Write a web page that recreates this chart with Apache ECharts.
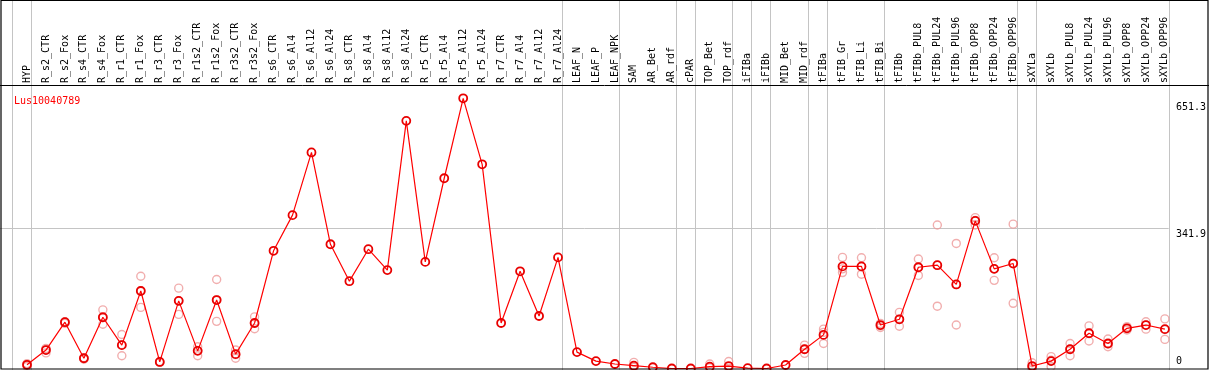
<!DOCTYPE html>
<html>
<head>
<meta charset="utf-8">
<script src="https://cdn.jsdelivr.net/npm/echarts@6/dist/echarts.min.js"></script>
<style>
    html, body {margin: 0; padding: 0; background: #fff;}
    #chart {width: 1209px; height: 370px;}
</style>
</head>
<body>
<div id="chart"></div>
<script>
//samples, left to right
var categories = ["HYP", "R_s2_CTR", "R_s2_Fox", "R_s4_CTR", "R_s4_Fox", "R_r1_CTR", "R_r1_Fox", "R_r3_CTR", "R_r3_Fox",
    "R_r1s2_CTR", "R_r1s2_Fox", "R_r3s2_CTR", "R_r3s2_Fox", "R_s6_CTR", "R_s6_Al4", "R_s6_Al12", "R_s6_Al24",
    "R_s8_CTR", "R_s8_Al4", "R_s8_Al12", "R_s8_Al24", "R_r5_CTR", "R_r5_Al4", "R_r5_Al12", "R_r5_Al24",
    "R_r7_CTR", "R_r7_Al4", "R_r7_Al12", "R_r7_Al24", "LEAF_N", "LEAF_P", "LEAF_NPK", "SAM", "AR_Bet", "AR_rdf",
    "cPAR", "TOP_Bet", "TOP_rdf", "iFIBa", "iFIBb", "MID_Bet", "MID_rdf", "tFIBa", "tFIB_Gr", "tFIB_Li", "tFIB_Bi",
    "tFIBb", "tFIBb_PUL8", "tFIBb_PUL24", "tFIBb_PUL96", "tFIBb_OPP8", "tFIBb_OPP24", "tFIBb_OPP96",
    "sXYLa", "sXYLb", "sXYLb_PUL8", "sXYLb_PUL24", "sXYLb_PUL96", "sXYLb_OPP8", "sXYLb_OPP24", "sXYLb_OPP96"];
//mean expression
var means = [9, 45, 113, 25, 125, 57, 189, 16, 165, 43, 167, 35, 111, 287, 374, 527, 303,
    213, 291, 240, 604, 260, 464, 659, 498, 111, 237, 128, 271, 40, 18, 11, 7, 3, 0,
    0, 4.5, 6, 1, 0, 8.5, 47, 82, 249, 249, 106,
    120, 247, 252, 205, 360, 243, 256,
    6, 18, 47, 86, 61, 98, 106, 96];
//replicates (empty = not shown)
var reps = [[5, 12, 9], [49, 38, 47], [114, 110, 113], [26, 23, 25], [143, 108, 124], [83, 31, 58],
    [225, 149, 190], [17, 15, 16], [196, 132, 165], [53, 31, 44], [217, 115, 168], [45, 25, 34], [126, 97, 110],
    [], [], [], [], [], [], [], [], [], [], [], [], [], [], [], [], [], [], [],
    [15, 3, 4], [], [], [], [11, 2], [17, 1], [], [], [],
    [57, 37, 47], [96, 61, 88], [271, 234, 243], [270, 230, 248], [100, 104, 110],
    [137, 103, 120], [267, 227, 246], [350, 152, 252], [305, 106, 205], [368, 350, 361], [270, 215, 243], [352, 159, 257],
    [14, 0, 4], [29, 5, 20], [61, 31, 47], [104, 67, 86], [72, 53, 60], [102, 94, 98], [114, 96, 106], [121, 71, 95]];
var yTicks = [0, 341.9, 651.3];
var refLines = [341.9];
//last sample index of each tissue group
var groupEnds = [-1, 0, 28, 31, 34, 35, 37, 38, 39, 41, 42, 45, 52, 53, 60];
var geneName = "Lus10040789";

var mono = "DejaVu Sans Mono";
var gridColor = "#c4c4c4";

var repData = [];
reps.forEach(function (arr, i) {
    arr.forEach(function (v) {
        repData.push([i, v]);
    });
});

var chart = echarts.init(document.getElementById("chart"));
chart.setOption({
    animation: false,
    title: {
        text: geneName, left: 9, top: 91,
        textStyle: {color: "#ff0000", fontSize: 10, fontFamily: mono, fontWeight: "normal"}
    },
    grid: {left: 27, right: 42, top: 86, bottom: 1.5},
    xAxis: {
        type: "category",
        position: "top",
        data: categories,
        boundaryGap: false,
        axisLine: {show: false},
        axisTick: {show: false},
        splitLine: {show: false},
        axisLabel: {
            interval: 0, rotate: 90, margin: 3, hideOverlap: false,
            fontFamily: mono, fontSize: 10, color: "#000"
        }
    },
    yAxis: {
        type: "value",
        position: "right",
        min: 0,
        max: 689,
        axisLine: {show: false},
        axisTick: {show: false},
        splitLine: {show: false},
        axisLabel: {
            customValues: yTicks,
            margin: 11,
            fontFamily: mono, fontSize: 10, color: "#000",
            formatter: function (v) {
                return v === 0 ? "{lo|0}" : "{hi|" + v + "}";
            },
            rich: {
                lo: {fontFamily: mono, fontSize: 10, color: "#000", padding: [0, 0, 14, 0]},
                hi: {fontFamily: mono, fontSize: 10, color: "#000", padding: [12, 0, 0, 0]}
            }
        }
    },
    graphic: [
        {type: "rect", shape: {x: 1, y: 0.5, width: 1207, height: 368.5}, style: {fill: null, stroke: "#000", lineWidth: 1.2}, z: 100},
        {type: "line", shape: {x1: 0, y1: 85.5, x2: 1209, y2: 85.5}, style: {stroke: "#000", lineWidth: 1}, z: 100}
    ],
    series: [
        {
            //group separators
            type: "custom",
            z: 0,
            silent: true,
            data: groupEnds.map(function (k) { return [k, 0]; }),
            renderItem: function (params, api) {
                var step = api.size([1, 0])[0];
                var x = Math.round(api.coord([api.value(0), 0])[0] + step * 0.2) + 0.5;
                return {type: "line", shape: {x1: x, y1: 0, x2: x, y2: api.getHeight()},
                    style: {stroke: gridColor, lineWidth: 1}};
            }
        },
        {
            //horizontal reference line
            type: "custom",
            z: 0,
            silent: true,
            data: refLines.map(function (v) { return [0, v]; }),
            renderItem: function (params, api) {
                var step = api.size([1, 0])[0];
                var y = Math.round(api.coord([0, api.value(1)])[1]) + 0.5;
                var x2 = params.coordSys.x + params.coordSys.width + step * 0.2;
                return {type: "line", shape: {x1: 0, y1: y, x2: x2, y2: y},
                    style: {stroke: gridColor, lineWidth: 1}};
            }
        },
        {
            name: "replicates",
            type: "scatter",
            z: 2,
            data: repData,
            symbol: "circle",
            symbolSize: 8,
            itemStyle: {color: "transparent", borderColor: "#ee9a9a", borderWidth: 1.4}
        },
        {
            name: geneName,
            type: "line",
            z: 3,
            data: means,
            symbol: "circle",
            symbolSize: 8,
            lineStyle: {color: "#ff0000", width: 1.2},
            itemStyle: {color: "transparent", borderColor: "#e80000", borderWidth: 1.8}
        }
    ]
});
</script>
</body>
</html>
